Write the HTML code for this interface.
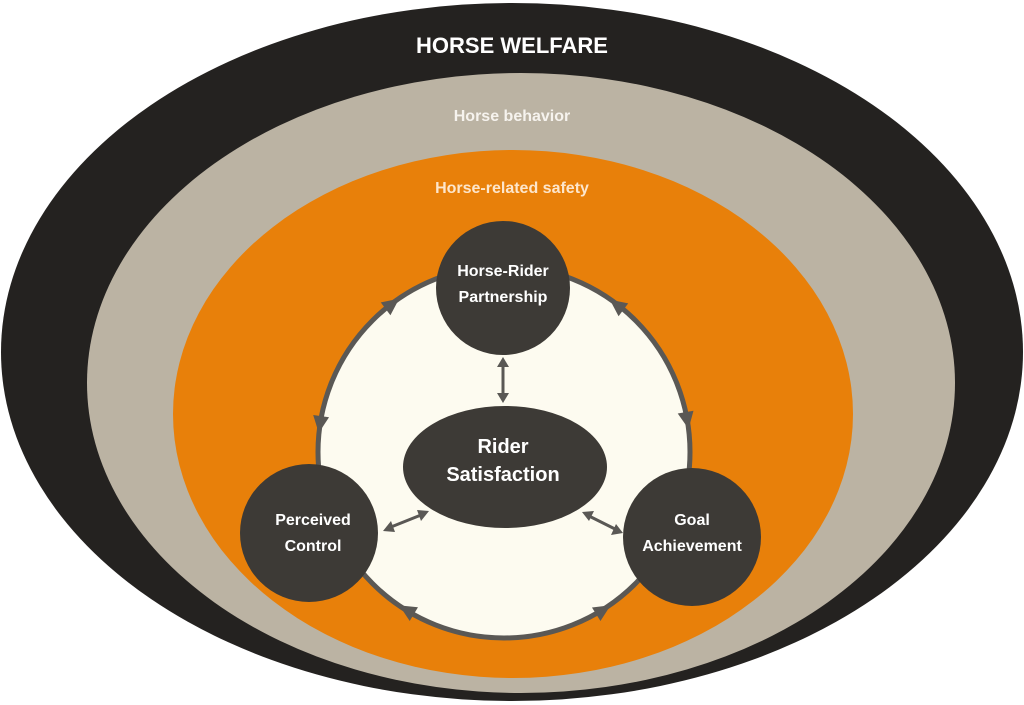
<!DOCTYPE html>
<html><head><meta charset="utf-8"><style>
html,body{margin:0;padding:0;background:#fff;width:1024px;height:705px;overflow:hidden}
svg text{font-family:"Liberation Sans",sans-serif;font-weight:bold;text-anchor:middle}
</style></head><body>
<svg width="1024" height="705" viewBox="0 0 1024 705" xmlns="http://www.w3.org/2000/svg">
<ellipse cx="512" cy="352" rx="511" ry="349" fill="#242220"/>
<ellipse cx="521" cy="383" rx="434" ry="310" fill="#bbb3a3"/>
<ellipse cx="513" cy="414" rx="340" ry="264" fill="#e8800a"/>
<circle cx="504" cy="452" r="186" fill="#fdfbf0" stroke="#5a5855" stroke-width="5"/>
<text x="512" y="53" font-size="22" fill="#fff">HORSE WELFARE</text>
<text x="512" y="121" font-size="16" fill="#f6f3ee">Horse behavior</text>
<text x="512" y="193" font-size="16" fill="#fde6cc">Horse-related safety</text>
<g fill="#5a5855">
<polygon points="9,0 -8,-8 -8,8" transform="translate(392,304) rotate(-37)"/>
<polygon points="9,0 -8,-8 -8,8" transform="translate(617,305) rotate(217)"/>
<polygon points="9,0 -8,-8 -8,8" transform="translate(320,424) rotate(98)"/>
<polygon points="9,0 -8,-8 -8,8" transform="translate(687,420) rotate(80)"/>
<polygon points="9,0 -8,-8 -8,8" transform="translate(407,610) rotate(211)"/>
<polygon points="9,0 -8,-8 -8,8" transform="translate(603,610) rotate(-32)"/>
</g>
<g stroke="#5a5855" stroke-width="3" fill="#5a5855">
<line x1="503" y1="364" x2="503" y2="396"/>
<line x1="391" y1="527" x2="421" y2="515"/>
<line x1="589" y1="516" x2="615" y2="529"/>
</g>
<g fill="#5a5855">
<polygon points="503,357 497,367 509,367"/>
<polygon points="503,403 497,393 509,393"/>
<polygon points="383,531 391,521 395,532"/>
<polygon points="429,511 417,510 421,521"/>
<polygon points="582,512 594,511 589,521"/>
<polygon points="623,533 611,535 616,524"/>
</g>
<g fill="#3d3a36">
<circle cx="503" cy="288" r="67"/>
<circle cx="309" cy="533" r="69"/>
<circle cx="692" cy="537" r="69"/>
<ellipse cx="505" cy="467" rx="102" ry="61"/>
</g>
<g fill="#fff" font-size="16">
<text x="503" y="276">Horse-Rider</text>
<text x="503" y="302">Partnership</text>
<text x="313" y="525">Perceived</text>
<text x="313" y="551">Control</text>
<text x="692" y="525">Goal</text>
<text x="692" y="551">Achievement</text>
<text x="503" y="453" font-size="20">Rider</text>
<text x="503" y="481" font-size="20">Satisfaction</text>
</g>
</svg>
</body></html>
